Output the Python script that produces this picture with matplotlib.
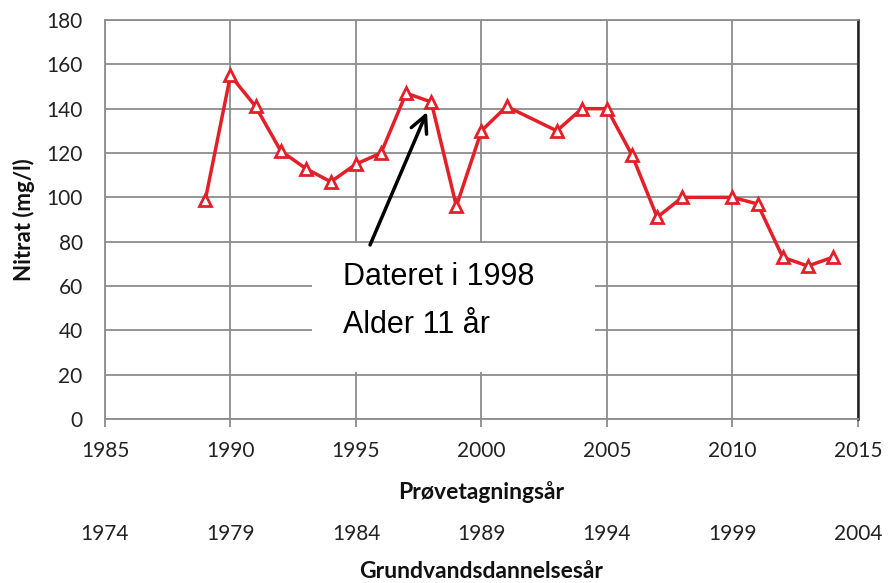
import numpy as np
import matplotlib
matplotlib.use("Agg")
import matplotlib.pyplot as plt
from matplotlib.patches import Rectangle

# ----- data -----
years = [1989, 1990, 1991, 1992, 1993, 1994, 1995, 1996, 1997, 1998, 1999, 2000,
         2001, 2003, 2004, 2005, 2006, 2007, 2008, 2010, 2011, 2012, 2013, 2014]
nitrat = [99, 155, 141, 121, 113, 107, 115, 120, 147, 143, 96, 130,
          141, 130, 140, 140, 119, 91, 100, 100, 97, 73, 69, 73]
x_ticks = [1985, 1990, 1995, 2000, 2005, 2010, 2015]
y_ticks = [0, 20, 40, 60, 80, 100, 120, 140, 160, 180]
age_offset = 11
sec_ticks = [t - age_offset for t in x_ticks]
arrow_tip = (1997.83, 138.5)
arrow_tail = (1995.56, 78.5)

TICK_FONT = "Lato"
GRID = "#8c8c8c"
RED = "#e3202a"

fig = plt.figure(figsize=(8.88, 5.83), dpi=100)
ax = fig.add_axes([0.1182, 0.2813, 0.848, 0.6844])

ax.plot(years, nitrat, color=RED, lw=2.5, marker="^", ms=8, mfc="white",
        mec=RED, mew=2.0, zorder=5)

ax.set_xlim(1985, 2015)
ax.set_ylim(0, 180)
ax.set_xticks(x_ticks)
ax.set_yticks(y_ticks)
ax.grid(True, color=GRID, lw=1.3, zorder=0)
ax.set_axisbelow(True)

for side in ["left", "bottom", "top"]:
    ax.spines[side].set_color(GRID)
    ax.spines[side].set_linewidth(1.3)
ax.spines["right"].set_color("#222222")
ax.spines["right"].set_linewidth(1.8)

ax.tick_params(axis="x", length=6, width=1.3, color=GRID, pad=10,
               labelsize=15, labelcolor="#222222")
ax.tick_params(axis="y", length=0, pad=16, labelsize=15, labelcolor="#222222")
for lab in ax.get_xticklabels() + ax.get_yticklabels():
    lab.set_fontfamily(TICK_FONT)

ax.set_xlabel("Prøvetagningsår", fontfamily=TICK_FONT, fontweight="bold",
              fontsize=16.5, labelpad=14, color="#111111")
ax.set_ylabel("Nitrat (mg/l)", fontfamily=TICK_FONT, fontweight="bold",
              fontsize=16, labelpad=8, color="#111111")

# second x-axis: groundwater formation year
sec = ax.secondary_xaxis(-0.253, functions=(lambda x: x - age_offset,
                                            lambda x: x + age_offset))
sec.set_xticks(sec_ticks)
sec.spines["bottom"].set_visible(False)
sec.tick_params(length=0, pad=3, labelsize=15, labelcolor="#222222")
for lab in sec.get_xticklabels():
    lab.set_fontfamily(TICK_FONT)
sec.set_xlabel("Grundvandsdannelsesår", fontfamily=TICK_FONT, fontweight="bold",
               fontsize=16.5, labelpad=12, color="#111111")

# annotation with white box hiding grid
ax.add_patch(Rectangle((0.275, 0.118), 0.376, 0.323, transform=ax.transAxes,
                       facecolor="white", edgecolor="none", zorder=2))
ax.text(0.316, 0.356, "Dateret i 1998", transform=ax.transAxes,
        fontfamily="Liberation Sans", fontsize=22, va="center", ha="left", zorder=3)
ax.text(0.316, 0.236, "Alder 11 år", transform=ax.transAxes,
        fontfamily="Liberation Sans", fontsize=22, va="center", ha="left", zorder=3)
ax.annotate("", xy=arrow_tip, xytext=arrow_tail,
            arrowprops=dict(arrowstyle="->", color="black", lw=2.5,
                            mutation_scale=30, shrinkA=0, shrinkB=0), zorder=6)

fig.savefig("out.png", dpi=100)
